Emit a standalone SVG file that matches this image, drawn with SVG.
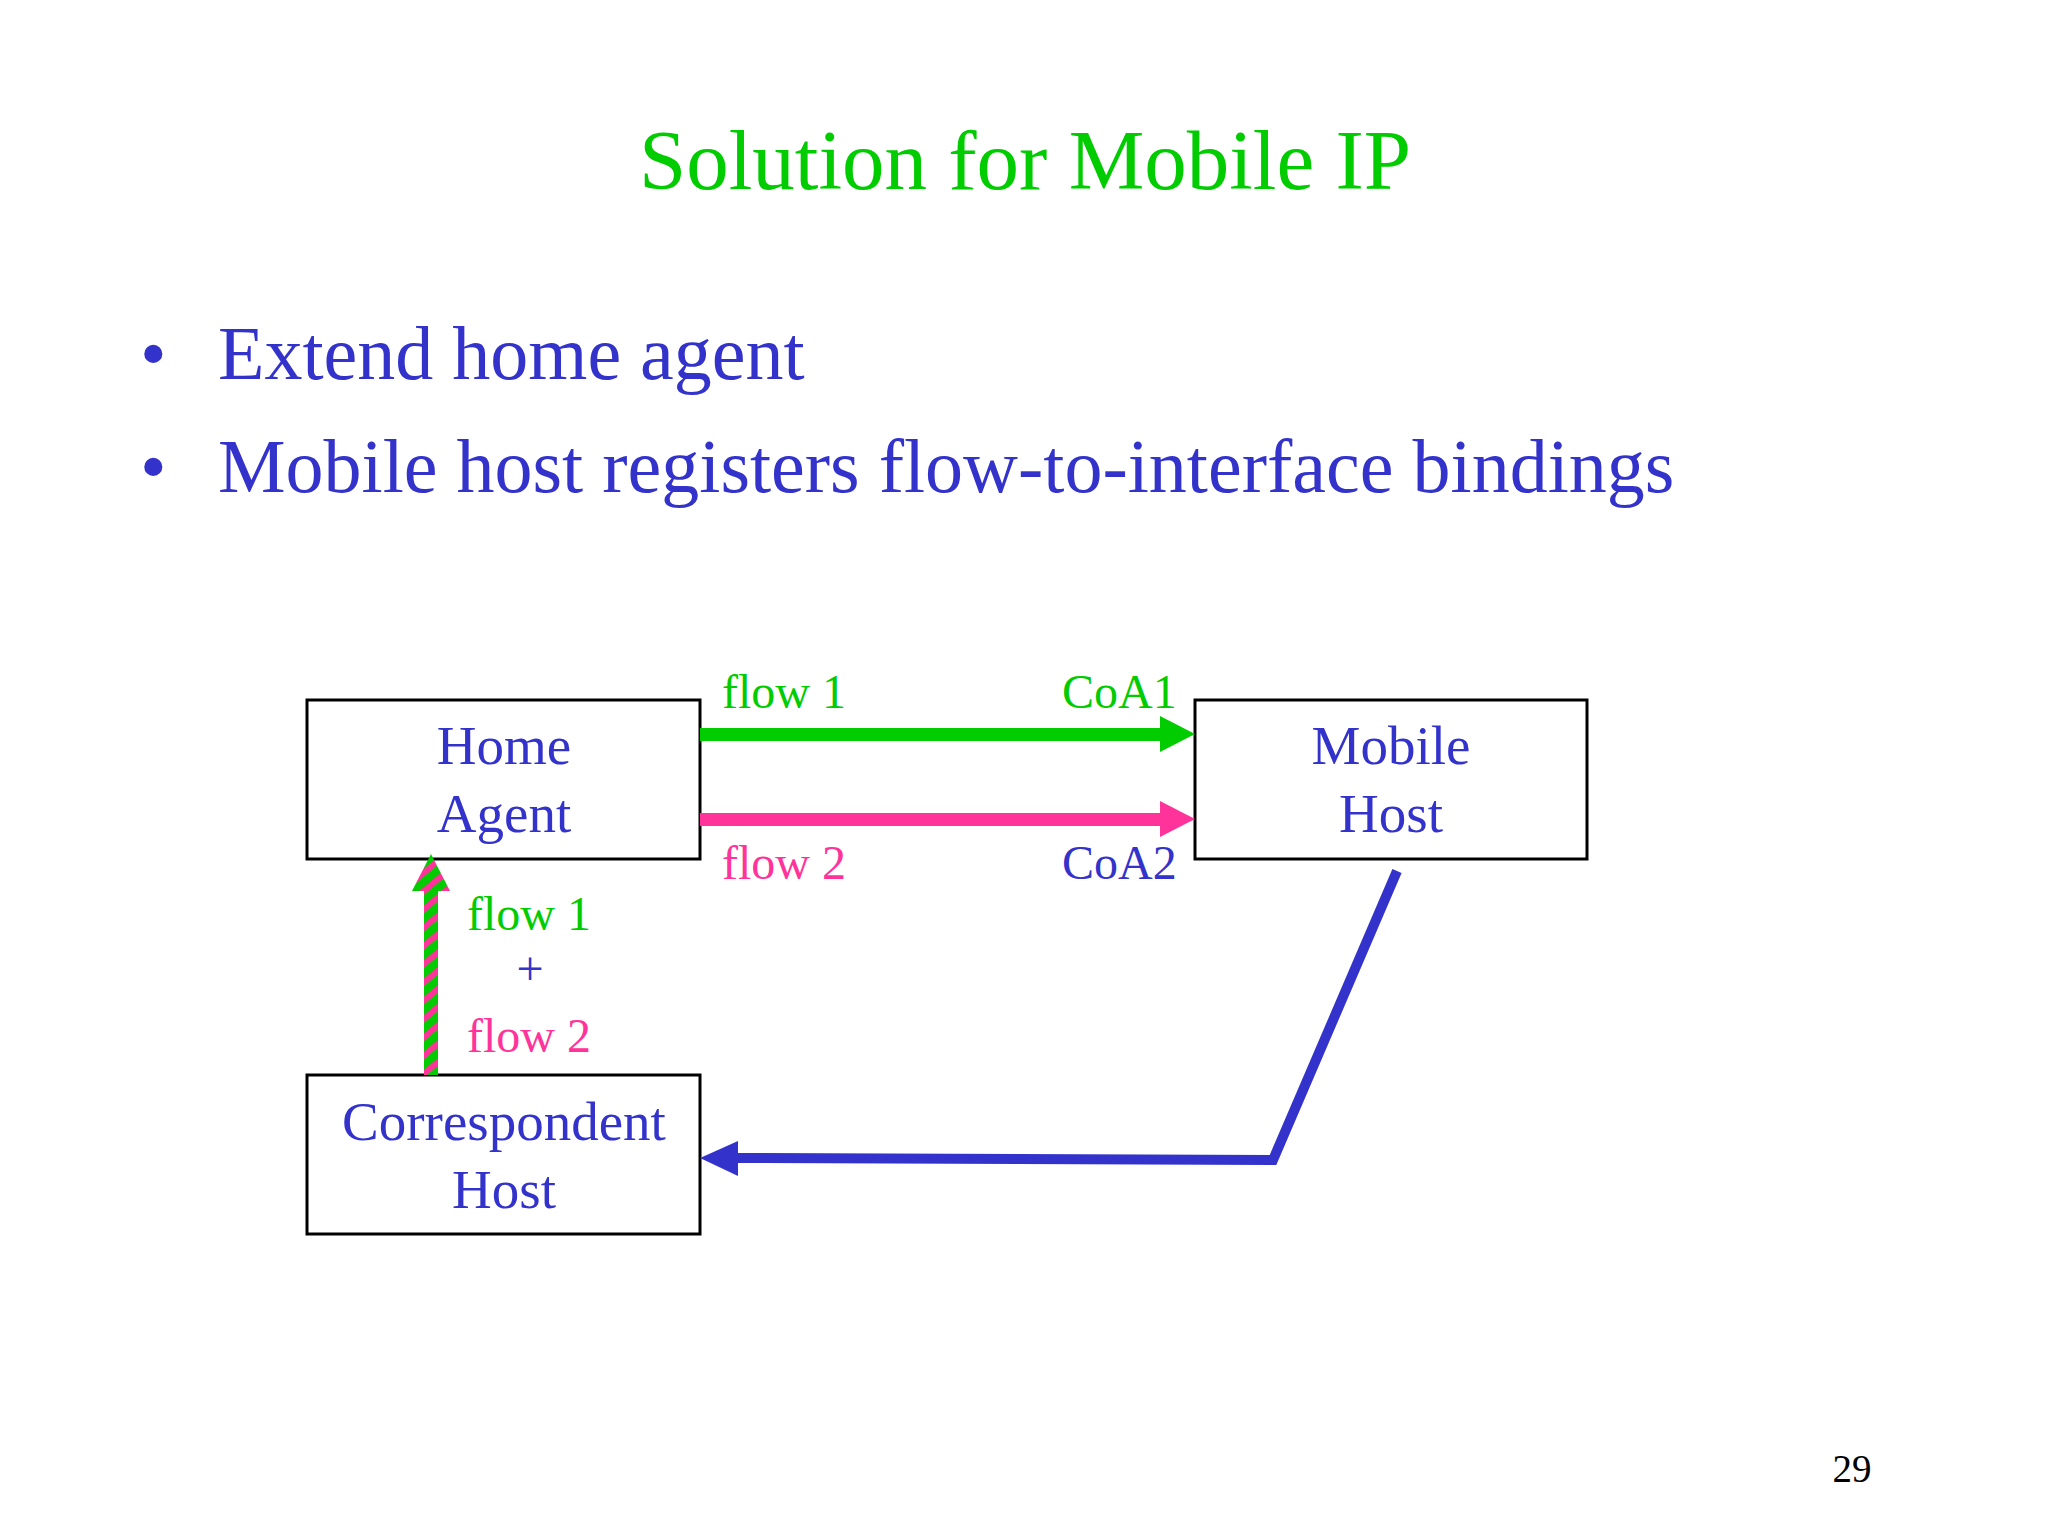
<svg xmlns="http://www.w3.org/2000/svg" width="2048" height="1536" viewBox="0 0 2048 1536">
<style>
.t{font-family:"Liberation Serif",serif}
.box{fill:none;stroke:#000;stroke-width:3}
.bt{font-family:"Liberation Serif",serif;font-size:55px;fill:#3333cc;text-anchor:middle}
.g{fill:#00cc00}.p{fill:#ff3399}
</style>
<defs>
<pattern id="str" patternUnits="userSpaceOnUse" width="14" height="14" patternTransform="rotate(-40)">
<rect width="14" height="14" fill="#00cc00"/><rect width="14" height="6" fill="#ff3399"/>
</pattern>
</defs>
<rect width="2048" height="1536" fill="#fff"/>
<text class="t" x="1025" y="189" font-size="85" fill="#00cc00" text-anchor="middle">Solution for Mobile IP</text>
<g class="t" font-size="76" fill="#3333cc">
<text x="140" y="379">•</text><text x="218" y="379">Extend home agent</text>
<text x="140" y="492">•</text><text x="218" y="492">Mobile host registers flow-to-interface bindings</text>
</g>
<g id="home"><rect class="box" x="307" y="700" width="393" height="159"/><text class="bt" x="504" y="764">Home</text><text class="bt" x="504" y="832">Agent</text></g>
<g id="mobile"><rect class="box" x="1195" y="700" width="392" height="159"/><text class="bt" x="1391" y="764">Mobile</text><text class="bt" x="1391" y="832">Host</text></g>
<g id="corr"><rect class="box" x="307" y="1075" width="393" height="159"/><text class="bt" x="504" y="1140">Correspondent</text><text class="bt" x="504" y="1208">Host</text></g>
<g id="connectors">
<rect x="700" y="728" width="460" height="13" class="g"/><polygon points="1160,716 1195,734 1160,752" class="g"/>
<rect x="700" y="813" width="460" height="13" class="p"/><polygon points="1160,801 1195,819 1160,837" class="p"/>
<rect x="424" y="890" width="14" height="185" fill="url(#str)"/><polygon points="412,891 431,854 450,891" fill="url(#str)"/>
<polyline points="1397,871 1273,1160 735,1158" fill="none" stroke="#3333cc" stroke-width="10"/>
<polygon points="738,1141 700,1158 738,1176" fill="#3333cc"/>
</g>
<g class="t" font-size="48">
<text x="722" y="708" class="g">flow 1</text><text x="1062" y="708" class="g">CoA1</text>
<text x="722" y="879" class="p">flow 2</text><text x="1062" y="879" class="p" fill="#3333cc" style="fill:#3333cc">CoA2</text>
<text x="467" y="930" class="g">flow 1</text>
<text x="530" y="985" fill="#3333cc" text-anchor="middle">+</text>
<text x="467" y="1052" class="p">flow 2</text>
</g>
<text class="t" x="1852" y="1482" font-size="39" fill="#000" text-anchor="middle">29</text>
</svg>
